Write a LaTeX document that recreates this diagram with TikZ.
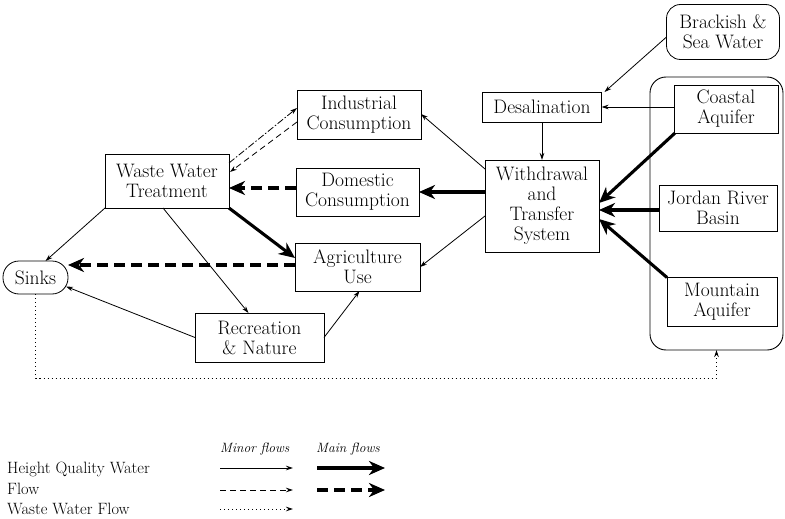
\documentclass[tikz,border=0pt]{standalone}
\usetikzlibrary{arrows.meta,calc}

\begin{document}
\begin{tikzpicture}[x=1pt,y=-1pt,
  box/.style={draw, line width=0.8pt, align=center, inner sep=0pt, outer sep=0pt,
    font=\fontsize{19.5}{20}\selectfont},
  roundbox/.style={box, rounded corners=14pt},
  minor/.style={line width=0.8pt, -{Stealth[length=7pt,width=4.5pt]}},
  major/.style={line width=3.1pt, -{Stealth[length=16pt,width=14pt,inset=5pt]}},
  minordash/.style={minor, dash pattern=on 6pt off 4pt},
  minordashdot/.style={minor, dash pattern=on 7pt off 2pt on 1.5pt off 2pt},
  majordash/.style={major, dash pattern=on 11pt off 6pt},
  waste/.style={minor, dash pattern=on 1.3pt off 2.7pt},
  legtxt/.style={anchor=base west, inner sep=0pt, font=\fontsize{16.4}{18}\selectfont},
  leghead/.style={anchor=base west, inner sep=0pt, font=\fontsize{13.5}{15}\itshape}
]
\useasboundingbox (0,0) rectangle (785,519);

% aquifer group frame
\node[draw, line width=0.9pt, rounded corners=16pt, minimum width=133pt, minimum height=273pt,
  inner sep=0pt, outer sep=0pt] (aq) at (716.5,213.5) {};

% sources
\node[roundbox, minimum width=113pt, minimum height=55pt] (brack) at (723,32) {Brackish \&\\Sea Water};
\node[box, minimum width=104pt, minimum height=48pt] (coastal) at (726,109) {Coastal\\Aquifer};
\node[box, minimum width=118pt, minimum height=46pt] (jordan) at (718,208) {Jordan River\\Basin};
\node[box, minimum width=110pt, minimum height=49pt] (mountain) at (722,302) {Mountain\\Aquifer};

% supply
\node[box, minimum width=119pt, minimum height=30pt] (desal) at (542,107) {Desalination};
\node[box, minimum width=114pt, minimum height=92pt] (wts) at (542,206) {Withdrawal\\and\\Transfer\\System};

% consumers
\node[box, minimum width=124pt, minimum height=49pt] (ind) at (359,115) {Industrial\\Consumption};
\node[box, minimum width=123pt, minimum height=48pt] (dom) at (357.5,192) {Domestic\\Consumption};
\node[box, minimum width=125pt, minimum height=48pt] (agr) at (357.5,267) {Agriculture\\Use};

% treatment and outlets
\node[box, minimum width=124pt, minimum height=54pt] (wwt) at (167,181) {Waste Water\\Treatment};
\node[roundbox, rounded corners=16pt, minimum width=65pt, minimum height=33pt] (sinks) at (35.5,277.5) {Sinks};
\node[box, minimum width=129pt, minimum height=49pt] (rec) at (259.5,337.5) {Recreation\\\& Nature};

% supply flows
\draw[minor] ($(brack.west)+(0,5)$) -- ($(desal.north east)+(3,0)$);
\draw[minor] (coastal.west |- desal.east) -- (desal.east);
\draw[minor] (desal.south) -- (desal.south |- wts.north);
\draw[major] ($(coastal.south west)+(1,0)$) -- ($(wts.east)+(0,-3)$);
\draw[major] ($(jordan.west)+(0,2)$) -- ($(wts.east)+(0,4)$);
\draw[major] (mountain.north west) -- ($(wts.east)+(0,13)$);

% distribution
\draw[minor] ($(wts.west)+(0,-37)$) -- ($(ind.east)+(0,-1)$);
\draw[major] (wts.west |- dom.east) -- (dom.east);
\draw[minor] ($(wts.west)+(0,10)$) -- (agr.east);

% waste water
\draw[minordashdot] ($(wwt.north east)+(0,9)$) -- ($(ind.west)+(0,-7)$);
\draw[minordash] ($(ind.west)+(0,7)$) -- ($(wwt.north east)+(1,18)$);
\draw[majordash] ($(dom.west)+(0,-4)$) -- ($(wwt.east)+(0,7)$);
\draw[major] (wwt.south east) -- ($(agr.west)+(0,-9)$);
\draw[minor] (wwt.south west) -- ($(sinks.north)+(10,0)$);
\draw[minor] ($(wwt.south)+(-4,0)$) -- ($(rec.north)+(-11,0)$);
\draw[majordash] ($(agr.west)+(0,-2)$) -- ($(sinks.east)+(0,-12.5)$);
\draw[minor] (rec.west) -- ($(sinks.east)+(-2,9)$);
\draw[minor] (rec.east) -- ($(agr.south)+(2,0)$);

% return to the aquifers
\coordinate (floor) at (400,378);
\draw[waste] (sinks.south) |- (floor) -| (aq.south);

% legend
\node[leghead] (hminor) at (220,452) {Minor flows};
\node[leghead] (hmain) at (316,452) {Main flows};
\node[legtxt] (l1) at (7,473) {Height Quality Water};
\node[legtxt] (l2) at (7,494) {Flow};
\node[legtxt] (l3) at (7,514) {Waste Water Flow};
\coordinate (a1) at (220,468); \coordinate (b1) at (293,468);
\coordinate (c1) at (317,468); \coordinate (d1) at (385,468);
\coordinate (a2) at (220,490); \coordinate (b2) at (293,490);
\coordinate (c2) at (317,490); \coordinate (d2) at (385,490);
\coordinate (a3) at (220,509); \coordinate (b3) at (293,509);
\draw[minor] (a1) -- (b1);
\draw[major] (c1) -- (d1);
\draw[minordash] (a2) -- (b2);
\draw[majordash] (c2) -- (d2);
\draw[waste] (a3) -- (b3);
\end{tikzpicture}
\end{document}
